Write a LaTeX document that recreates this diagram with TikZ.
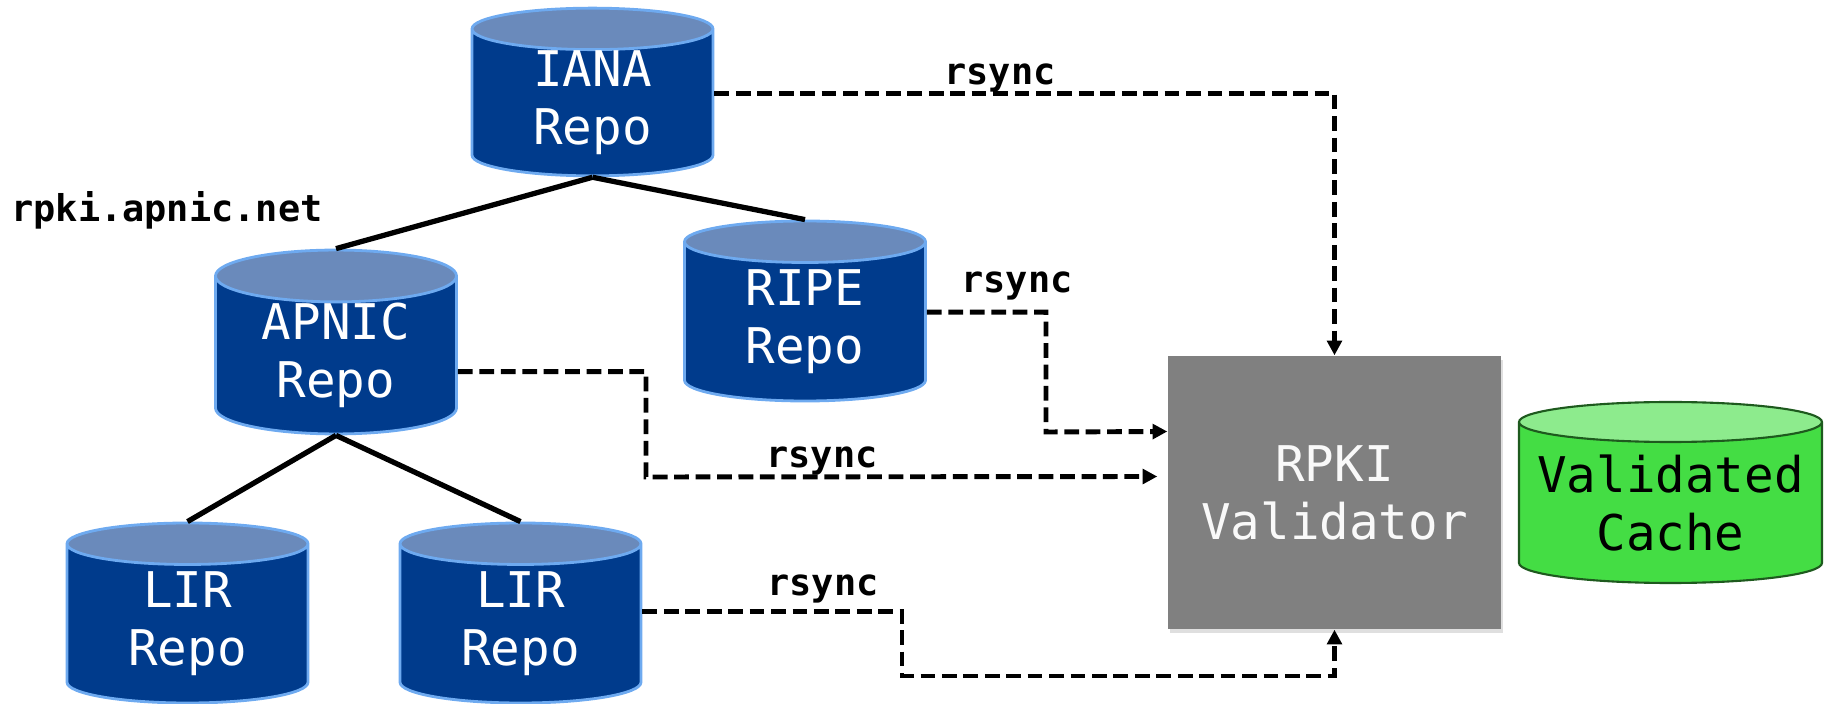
\documentclass[tikz,border=0pt]{standalone}
\usepackage{fontspec}
\setmonofont{DejaVu Sans Mono}
\usetikzlibrary{
    shapes,
    arrows,
    arrows.meta,
    positioning,
    calc,
    shadows}
\definecolor{repoblue}{HTML}{003B8C}
\definecolor{repotop}{HTML}{6A8ABB}
\definecolor{repoline}{HTML}{6EAAF0}
\definecolor{cachegreen}{HTML}{44DD44}
\definecolor{cachetop}{HTML}{8DEB8D}
\definecolor{cacheline}{HTML}{1E5A1E}
\definecolor{boxgray}{HTML}{808080}
\newcommand*{\bigtt}{\ttfamily\fontsize{14}{16.5}\selectfont}
\newcommand*{\smalltt}{\ttfamily\bfseries\fontsize{10.5}{12}\selectfont}

\begin{document}
\begin{tikzpicture}[x=0.1mm,y=-0.1mm,
    softshadow/.style={drop shadow={opacity=0.25,shadow xshift=0.6pt,shadow yshift=-1.2pt}},
    repo/.style={cylinder,shape border rotate=90,aspect=0.35,
      cylinder uses custom fill,cylinder body fill=repoblue,cylinder end fill=repotop,
      draw=repoline,line width=0.8pt,minimum width=24.1mm,minimum height=18mm,
      text=white,font=\bigtt,align=center,inner sep=0pt,anchor=shape center},
    treeline/.style={line width=1.5pt,black},
    rsyncline/.style={line width=1.4pt,dash pattern=on 4.2pt off 1.9pt,
      -{Triangle[length=4.2pt,width=4.2pt]}},
    rsynclabel/.style={font=\smalltt,inner sep=0pt}]
    \useasboundingbox (0,0) rectangle (1827,704);

    \node[repo,minimum height=16.5mm] (iana) at (592.5,92) {IANA\\Repo};
    \node[repo] (apnic) at (336,342) {APNIC\\Repo};
    \node[repo] (ripe) at (805,311) {RIPE\\Repo};
    \node[repo] (lira) at (187.5,613) {LIR\\Repo};
    \node[repo] (lirb) at (520.5,613) {LIR\\Repo};
    \node[rectangle,fill=boxgray,minimum width=33.3mm,minimum height=27.3mm,
      text=white!95!gray,font=\bigtt,align=center,softshadow] (validator) at (1334.5,492.5) {RPKI\\Validator};
    \node[repo,aspect=0.2,cylinder body fill=cachegreen,cylinder end fill=cachetop,draw=cacheline,
      line width=0.6pt,minimum width=30.3mm,minimum height=18.1mm,text=black] (cache) at (1670.5,492.5)
      {\makebox[20mm]{Validated}\\\makebox[20mm]{Cache}};

    \node[font=\smalltt,inner sep=0pt] (apnicurl) at (167,210) {rpki.apnic.net};

    \draw[treeline] (iana.south) -- (apnic.north);
    \draw[treeline] (iana.south) -- (ripe.north);
    \draw[treeline] (apnic.south) -- (lira.north);
    \draw[treeline] (apnic.south) -- (lirb.north);

    \coordinate (ripebend) at (1046,432);
    \coordinate (apnicbend) at (646,477);
    \coordinate (lirbend) at (902,676);
    \draw[rsyncline] ([yshift=1mm]iana.east) -| (validator.north);
    \draw[rsyncline] ([yshift=1mm]ripe.east) -| (ripebend) -- ([yshift=6.1mm]validator.west);
    \draw[rsyncline] ([yshift=-1.6mm]apnic.east) -| (apnicbend) -- ([xshift=-1mm,yshift=1.6mm]validator.west);
    \draw[rsyncline] ([yshift=1.3mm]lirb.east) -| (lirbend) -| (validator.south);

    \node[rsynclabel] (ianasync) at (1000,78) {rsync};
    \node[rsynclabel] (ripesync) at (1017,286) {rsync};
    \node[rsynclabel] (apnicsync) at (822,461) {rsync};
    \node[rsynclabel] (lirsync) at (823,589) {rsync};
\end{tikzpicture}
\end{document}
